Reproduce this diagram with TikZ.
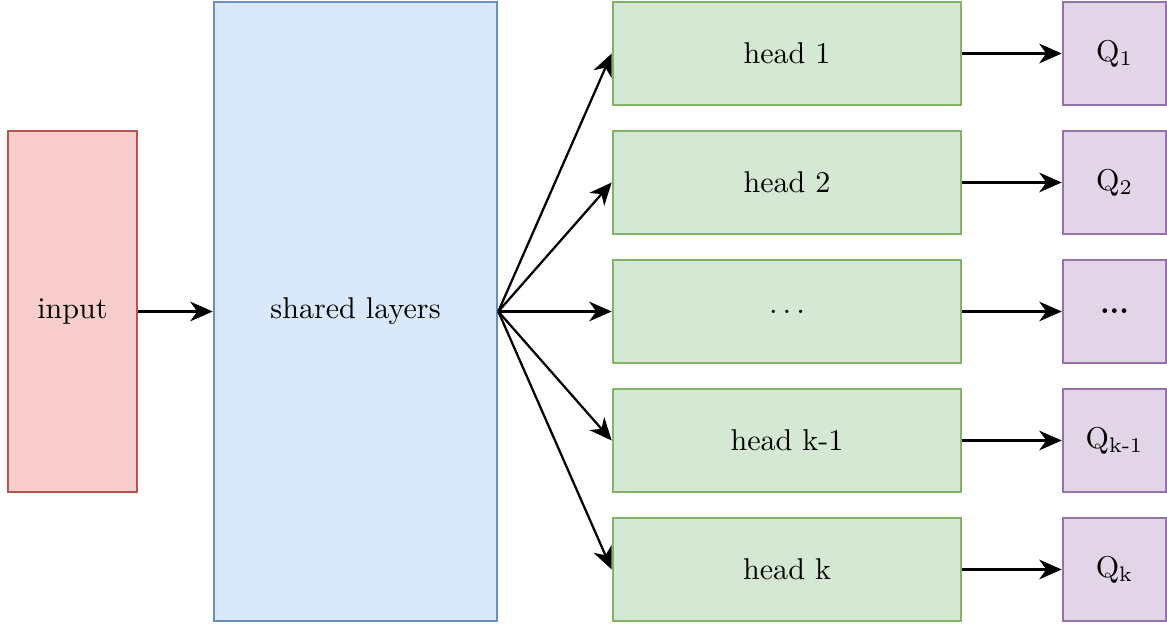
\documentclass[tikz,border=0pt]{standalone}
\usetikzlibrary{arrows.meta}
\definecolor{inputfill}{HTML}{F8CECC}\definecolor{inputdraw}{HTML}{B85450}
\definecolor{sharedfill}{HTML}{DAE8FC}\definecolor{shareddraw}{HTML}{6C8EBF}
\definecolor{headfill}{HTML}{D5E8D4}\definecolor{headdraw}{HTML}{82B366}
\definecolor{qfill}{HTML}{E1D5E7}\definecolor{qdraw}{HTML}{9673A6}
\begin{document}
\begin{tikzpicture}[x=0.0125cm,y=-0.0125cm,->,>={Stealth[length=8pt,width=7pt,inset=2.5pt]},thick]
\tikzset{BoxStyle/.style = {draw,rectangle,line width=0.9pt,inner sep=0pt,
                            font=\fontsize{10.7}{13}\selectfont},
         InputStyle/.style = {BoxStyle,draw=inputdraw,fill=inputfill,
                              minimum width=1.6125cm,minimum height=4.5125cm},
         SharedStyle/.style = {BoxStyle,draw=shareddraw,fill=sharedfill,
                               minimum width=3.5375cm,minimum height=7.7375cm},
         HeadStyle/.style = {BoxStyle,draw=headdraw,fill=headfill,
                             minimum width=4.35cm,minimum height=1.2875cm},
         QStyle/.style = {BoxStyle,draw=qdraw,fill=qfill,
                          minimum width=1.2875cm,minimum height=1.2875cm}}
\useasboundingbox (0,0) rectangle (1167,625);
\node[InputStyle] (input) at (72.5,311.5) {input};
\node[SharedStyle] (shared) at (355.5,311.5) {shared layers};
\node[HeadStyle] (h1) at (787,53.5) {head 1}; \node[HeadStyle] (h2) at (787,182.5) {head 2};
\node[HeadStyle] (hd) at (787,311.5) {$\ldots$};  \node[HeadStyle] (hk1) at (787,440.5) {head k-1};
\node[HeadStyle] (hk) at (787,569.5) {head k};
\node[QStyle] (q1) at (1114.5,53.5) {Q\textsubscript{1}}; \node[QStyle] (q2) at (1114.5,182.5) {Q\textsubscript{2}};
\node[QStyle] (qd) at (1114.5,311.5) {\textbf{...}}; \node[QStyle] (qk1) at (1114.5,440.5) {Q\textsubscript{k-1}};
\node[QStyle] (qk) at (1114.5,569.5) {Q\textsubscript{k}};
\draw (input) -- (shared);
\draw (shared.east) -- (h1.west); \draw (shared.east) -- (h2.west);
\draw (shared.east) -- (hd.west); \draw (shared.east) -- (hk1.west);
\draw (shared.east) -- (hk.west);
\draw (h1) -- (q1); \draw (h2) -- (q2); \draw (hd) -- (qd);
\draw (hk1) -- (qk1); \draw (hk) -- (qk);
\end{tikzpicture}
\end{document}
